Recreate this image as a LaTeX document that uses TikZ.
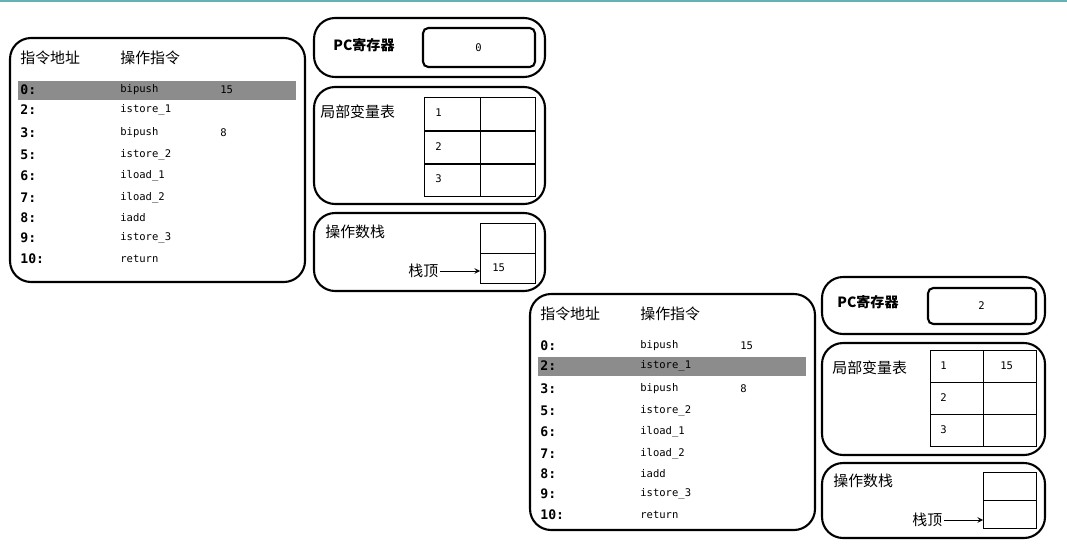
\documentclass[tikz,border=0pt]{standalone}
\usepackage{fontspec}
\setmonofont{DejaVu Sans Mono}
\newfontfamily\cjk{Noto Sans CJK SC}
\usetikzlibrary{positioning}

\tikzset{
  panel/.style={draw=black, line width=1.2pt, rounded corners=12pt},
  head/.style={anchor=west, inner sep=0pt, font=\cjk\fontsize{8.5}{9}\selectfont},
  addr/.style={anchor=west, inner sep=0pt, font=\ttfamily\bfseries\fontsize{7.5}{8}\selectfont},
  code/.style={anchor=west, inner sep=0pt, font=\ttfamily\fontsize{6}{7}\selectfont},
  cell/.style={draw=black, line width=0.5pt}
}

% instruction list: #1 highlighted row, #2 width, #3 height
\newcommand{\codelist}[3]{%
  \draw [panel] (0,0) rectangle (#2,#3);
  \node [head] (hA) at (10,20) {指令地址};
  \node [head] (hB) at (110,20) {操作指令};
  \fill [black!45] (8,#1-9) rectangle (#2-9,#1+10);
  \foreach \y/\aa/\cc/\vv [count=\i] in {52/0:/bipush/15, 72/2:/istore\_1/, 95/3:/bipush/8,
      117/5:/istore\_2/, 138/6:/iload\_1/, 160/7:/iload\_2/, 180/8:/iadd/,
      200/9:/istore\_3/, 221/10:/return/} {
    \node [addr] (a\i) at (10,\y) {\aa};
    \node [code] (c\i) at (110,\y) {\cc};
    \node [code] (v\i) at (210,\y) {\vv};
  }
}

\begin{document}
\begin{tikzpicture}[x=0.02cm, y=-0.02cm]
\useasboundingbox (0,0) rectangle (1067,544);
\fill [white] (0,0) rectangle (1067,544);
\draw [teal!60, line width=1pt] (0,1) -- (1067,1);

% frame before bipush
\begin{scope}[shift={(10,38)}]
\codelist{52}{295}{244}
\end{scope}
\draw [panel] (314,18) rectangle (545,77);
\node [head, font=\cjk\bfseries\fontsize{8}{9}\selectfont] (pc1) at (333,45) {PC寄存器};
\draw [black, line width=1.2pt, rounded corners=3pt] (423,28) rectangle (535,67);
\node [code] (pcv1) at (475,48) {0};
\draw [panel] (314,87) rectangle (545,204);
\node [head] (lv1) at (320,112) {局部变量表};
\foreach \y/\n in {97/1,131/2,163/3} {
  \draw [cell] (424,\y) rectangle (480,\y+33);
  \draw [cell] (480,\y) rectangle (535,\y+33);
  \node [code] at (435,\y+16) {\n};
}
\draw [panel] (314,213) rectangle (545,291);
\node [head] (os1) at (325,232) {操作数栈};
\draw [cell] (480,223) rectangle (535,253);
\draw [cell] (480,253) rectangle (535,283);
\node [code] (top1) at (492,268) {15};
\node [head] (st1) at (408,271) {栈顶};
\coordinate (in1) at (480,268);
\draw [-stealth] ([xshift=1pt]st1.east) -- (st1.east -| in1);

% frame after istore_1
\begin{scope}[shift={(530,294)}]
\codelist{72}{285}{236}
\end{scope}
\draw [panel] (822,277) rectangle (1045,334);
\node [head, font=\cjk\bfseries\fontsize{8}{9}\selectfont] (pc2) at (837,302) {PC寄存器};
\draw [black, line width=1.2pt, rounded corners=3pt] (928,288) rectangle (1036,324);
\node [code] (pcv2) at (978,306) {2};
\draw [panel] (822,343) rectangle (1045,455);
\node [head] (lv2) at (832,368) {局部变量表};
\foreach \y/\n/\vv in {350/1/15,382/2/,414/3/} {
  \draw [cell] (930,\y) rectangle (983,\y+32);
  \draw [cell] (983,\y) rectangle (1036,\y+32);
  \node [code] at (940,\y+16) {\n};
  \node [code] at (1000,\y+16) {\vv};
}
\draw [panel] (822,463) rectangle (1045,538);
\node [head] (os2) at (833,481) {操作数栈};
\draw [cell] (983,472) rectangle (1036,500);
\draw [cell] (983,500) rectangle (1036,528);
\node [head] (st2) at (912,520) {栈顶};
\coordinate (in2) at (983,518);
\draw [-stealth] ([xshift=1pt]st2.east) -- (st2.east -| in2);
\end{tikzpicture}
\end{document}
